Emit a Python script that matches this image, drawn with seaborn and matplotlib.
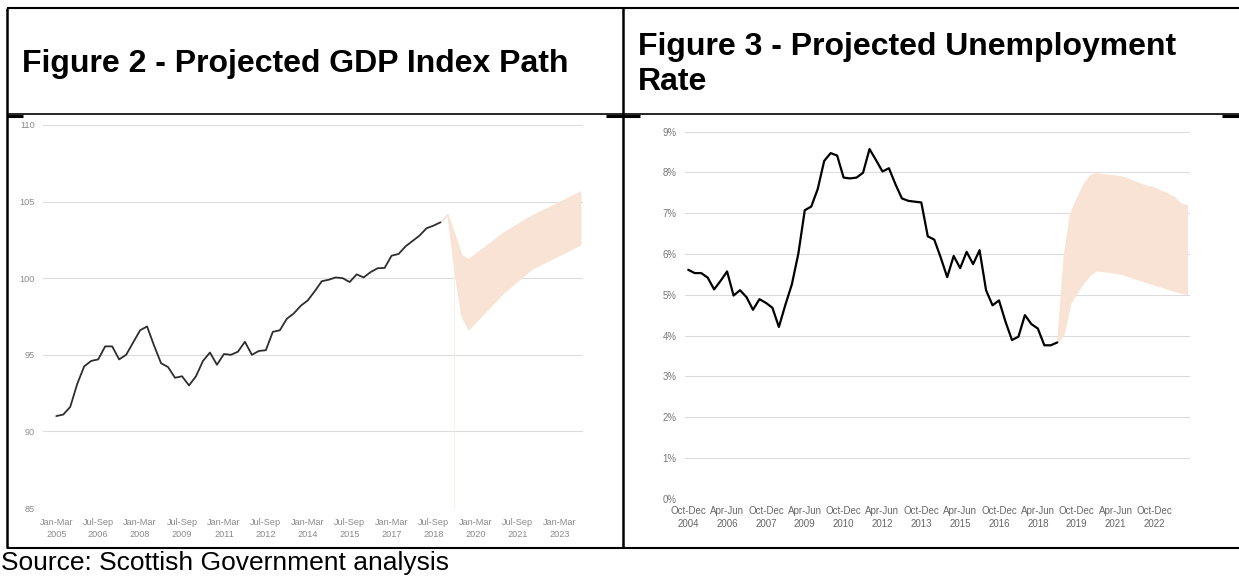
import numpy as np
import pandas as pd
import matplotlib
matplotlib.use("Agg")
import matplotlib.pyplot as plt
import seaborn as sns

sns.set_style("white")
plt.rcParams["font.family"] = ["Liberation Sans", "DejaVu Sans"]

# ----------------------------------------------------------------
# DATA
# ----------------------------------------------------------------
# Figure 2: GDP index, quarterly from Jan-Mar 2005 (index 0)
gdp_hist = [91.0, 91.1, 91.6, 93.1, 94.25, 94.6, 94.7, 95.55, 95.55, 94.7,
            95.0, 95.8, 96.6, 96.85, 95.6, 94.45, 94.2, 93.5, 93.6, 93.0,
            93.6, 94.6, 95.15, 94.35, 95.05, 95.0, 95.2, 95.85, 95.0, 95.25,
            95.3, 96.5, 96.6, 97.35, 97.7, 98.2, 98.55, 99.15, 99.8, 99.9,
            100.05, 100.0, 99.75, 100.25, 100.05, 100.4, 100.65, 100.67, 101.47, 101.58,
            102.08, 102.43, 102.78, 103.26, 103.43, 103.65]
gdp_fan_start = 55
gdp_high = [103.65, 104.17, 102.87, 101.5, 101.24, 101.59, 101.94, 102.28, 102.63, 102.98,
            103.25, 103.53, 103.8, 104.07, 104.3, 104.52, 104.75, 104.97, 105.2, 105.42, 105.65]
gdp_low = [103.65, 104.17, 100.5, 97.54, 96.67, 97.15, 97.63, 98.11, 98.59, 99.07,
           99.45, 99.83, 100.22, 100.6, 100.83, 101.06, 101.29, 101.51, 101.74, 101.97, 102.2]
gdp_ticklabels = ["Jan-Mar\n2005", "Jul-Sep\n2006", "Jan-Mar\n2008", "Jul-Sep\n2009",
                  "Jan-Mar\n2011", "Jul-Sep\n2012", "Jan-Mar\n2014", "Jul-Sep\n2015",
                  "Jan-Mar\n2017", "Jul-Sep\n2018", "Jan-Mar\n2020", "Jul-Sep\n2021",
                  "Jan-Mar\n2023"]
gdp_yticks = [85, 90, 95, 100, 105, 110]

# Figure 3: unemployment rate (%), quarterly from Oct-Dec 2004 (index 0)
unemp_hist = [5.61, 5.53, 5.53, 5.42, 5.13, 5.34, 5.57, 4.98, 5.11, 4.94,
              4.63, 4.89, 4.8, 4.68, 4.21, 4.75, 5.25, 6.0, 7.07, 7.16,
              7.59, 8.28, 8.47, 8.41, 7.87, 7.85, 7.87, 7.99, 8.57, 8.3,
              8.02, 8.1, 7.71, 7.36, 7.3, 7.28, 7.26, 6.43, 6.35, 5.91,
              5.43, 5.95, 5.65, 6.05, 5.75, 6.09, 5.11, 4.74, 4.86, 4.34,
              3.89, 3.97, 4.5, 4.28, 4.17, 3.76, 3.76, 3.83]
unemp_fan_start = 57
unemp_low = [3.83, 4.05, 4.8, 5.05, 5.3, 5.48, 5.6, 5.58, 5.56, 5.54,
             5.51, 5.46, 5.40, 5.35, 5.30, 5.25, 5.20, 5.15, 5.10, 5.06, 5.02]
unemp_high = [3.83, 5.95, 7.0, 7.36, 7.69, 7.92, 7.98, 7.95, 7.93, 7.92,
              7.89, 7.84, 7.77, 7.71, 7.66, 7.62, 7.55, 7.48, 7.40, 7.24, 7.19]
unemp_ticklabels = ["Oct-Dec\n2004", "Apr-Jun\n2006", "Oct-Dec\n2007", "Apr-Jun\n2009",
                    "Oct-Dec\n2010", "Apr-Jun\n2012", "Oct-Dec\n2013", "Apr-Jun\n2015",
                    "Oct-Dec\n2016", "Apr-Jun\n2018", "Oct-Dec\n2019", "Apr-Jun\n2021",
                    "Oct-Dec\n2022"]
unemp_yticks = [0, 1, 2, 3, 4, 5, 6, 7, 8, 9]

fan_colour = "#f9e3d5"
grid_colour = "#dcdcdc"

gdp_df = pd.DataFrame({"q": np.arange(len(gdp_hist)), "value": gdp_hist})
gdp_fan_q = np.arange(gdp_fan_start, gdp_fan_start + len(gdp_high))
unemp_df = pd.DataFrame({"q": np.arange(len(unemp_hist)), "value": unemp_hist})
unemp_fan_q = np.arange(unemp_fan_start, unemp_fan_start + len(unemp_high))

W, H = 1239, 576
fig = plt.figure(figsize=(W / 100, H / 100), dpi=100)


def px_axes(x0, y0, x1, y1):
    # axes placed by pixel box (top-left origin)
    return fig.add_axes([x0 / W, 1 - y1 / H, (x1 - x0) / W, (y1 - y0) / H])


# ----------------------------------------------------------------
# FIGURE 2 - GDP
# ----------------------------------------------------------------
ax1 = px_axes(43, 125, 583, 508)
ax1.fill_between(gdp_fan_q, gdp_low, gdp_high, facecolor=fan_colour,
                 edgecolor=fan_colour, lw=1.0, zorder=2)
ax1.axvline(57, ymin=0, ymax=0.72, color="#f6f0ec", lw=0.8, zorder=1)
sns.lineplot(data=gdp_df, x="q", y="value", ax=ax1, color="#2e2e2e", lw=1.3, zorder=3)
ax1.set_xlim(-1.9, 75.4)
ax1.set_ylim(85, 110)
ax1.set_yticks(gdp_yticks)
ax1.set_xticks(np.arange(0, 6 * len(gdp_ticklabels), 6))
ax1.set_xticklabels(gdp_ticklabels, linespacing=1.5)
ax1.tick_params(axis="x", length=0, pad=7, labelsize=6.6, labelcolor="#8a8a8a")
ax1.tick_params(axis="y", length=0, pad=6, labelsize=6.6, labelcolor="#8a8a8a")
ax1.grid(axis="y", color=grid_colour, lw=0.8, zorder=0)
ax1.set_axisbelow(True)
ax1.set_xlabel("")
ax1.set_ylabel("")
sns.despine(ax=ax1, left=True, bottom=True)

# ----------------------------------------------------------------
# FIGURE 3 - UNEMPLOYMENT
# ----------------------------------------------------------------
ax2 = px_axes(685, 131.5, 1190, 498.7)
ax2.fill_between(unemp_fan_q, unemp_low, unemp_high, facecolor=fan_colour,
                 edgecolor=fan_colour, lw=1.0, zorder=2)
sns.lineplot(data=unemp_df, x="q", y="value", ax=ax2, color="black", lw=1.6, zorder=3)
ax2.set_xlim(-0.5, 77.5)
ax2.set_ylim(0, 9)
ax2.set_yticks(unemp_yticks)
ax2.set_yticklabels([f"{v}%" for v in unemp_yticks])
ax2.set_xticks(np.arange(0, 6 * len(unemp_ticklabels), 6))
ax2.set_xticklabels(unemp_ticklabels, linespacing=1.45)
ax2.tick_params(axis="x", length=0, pad=5, labelsize=7.0, labelcolor="#666666")
ax2.tick_params(axis="y", length=0, pad=6, labelsize=6.9, labelcolor="#777777")
ax2.grid(axis="y", color=grid_colour, lw=0.8, zorder=0)
ax2.set_axisbelow(True)
ax2.set_xlabel("")
ax2.set_ylabel("")
sns.despine(ax=ax2, left=True, bottom=True)

# ----------------------------------------------------------------
# TABLE FRAME, HEADINGS, SOURCE
# ----------------------------------------------------------------
frame = fig.add_axes([0, 0, 1, 1], zorder=-1)
frame.set_xlim(0, W)
frame.set_ylim(H, 0)
frame.axis("off")

border = dict(color="black", solid_capstyle="butt")
frame.plot([7, W], [8, 8], lw=1.5, **border)
frame.plot([7, W], [113.5, 113.5], lw=1.2, **border)
frame.plot([7, W], [548, 548], lw=1.5, **border)
frame.plot([7, 7], [8, 548], lw=1.8, **border)
frame.plot([622.5, 622.5], [8, 548], lw=1.8, **border)
for x0, x1 in [(7, 23), (606, 640), (1222, W)]:
    frame.plot([x0, x1], [115.5, 115.5], lw=2.2, **border)

title_font = dict(fontsize=23, fontweight="bold", color="black", va="center", ha="left")
frame.text(22, 64, "Figure 2 - Projected GDP Index Path", **title_font)
frame.text(638, 47, "Figure 3 - Projected Unemployment", **title_font)
frame.text(638, 82, "Rate", **title_font)
frame.text(1, 570, "Source: Scottish Government analysis", fontsize=19,
           color="black", va="baseline", ha="left")

fig.savefig("out.png", dpi=100)
